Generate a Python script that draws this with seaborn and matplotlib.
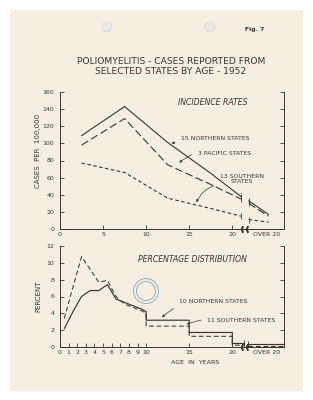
import numpy as np
import pandas as pd
import seaborn as sns
import matplotlib
matplotlib.use('Agg')
import matplotlib.pyplot as plt
from matplotlib.patches import Rectangle, Ellipse

# incidence rates, cases per 100,000 (age-group midpoints, then "over 20")
rate_ages = [2.5, 7.5, 12.5, 17.5, 21.0]
rate_ages_over = [21.9, 24.2]
northern_rate = [109, 143, 101, 65, 38]
northern_rate_over = [33, 17]
pacific_rate = [98, 129, 75, 52, 35]
pacific_rate_over = [30, 15]
southern_rate = [77, 66, 36, 24, 15]
southern_rate_over = [11, 8]

# percentage distribution: single years 0-9, then 10-14, 15-19, 20, over 20
single_ages = [0.5, 1.5, 2.5, 3.5, 4.5, 5.5, 6.5, 7.5, 8.5, 9.5, 10.0]
northern_pct = [2.2, 4.2, 6.0, 6.7, 6.7, 7.4, 5.7, 5.3, 4.9, 4.5, 4.2]
southern_pct = [3.4, 7.1, 10.7, 9.2, 7.7, 7.9, 6.0, 5.1, 4.7, 4.3, 4.0]
group_edges = [10, 15, 20, 21.3]
northern_group = [3.2, 1.75, 0.45]
southern_group = [2.5, 1.3, 0.25]
over20_span = [21.8, 26]
northern_over20 = 0.38
southern_over20 = 0.18

rate_ticks = [0, 5, 10, 15, 20, 24]
rate_ticklabels = ['0', '5', '10', '15', '20', 'OVER 20']
pct_ticks = list(range(11)) + [15, 20, 24]
pct_ticklabels = [str(i) for i in range(11)] + ['15', '20', 'OVER 20']
axis_breaks = [21.1, 21.7]

ink = '#3b3531'
paper = '#f5eee1'

sns.set_style('ticks')
plt.rcParams['font.family'] = ['DejaVu Sans']

fig = plt.figure(figsize=(3.13, 4.0), dpi=100, facecolor='white')
fig.patches.append(Rectangle((10 / 313, 1 - 391 / 400), 293 / 313, 381 / 400,
                             transform=fig.transFigure, facecolor=paper,
                             edgecolor='none', zorder=-10))
for hx in [107, 210]:
    fig.patches.append(Ellipse((hx / 313, 1 - 27 / 400), 10 / 313, 10 / 400,
                               transform=fig.transFigure, facecolor='#ebe9e6',
                               edgecolor='#d8d2c8', lw=0.5))

fig.text(255 / 313, 1 - 29 / 400, 'Fig. 7', fontsize=4.4, weight='bold',
         color=ink, ha='center', va='center')
fig.text(171 / 313, 1 - 61 / 400, 'POLIOMYELITIS - CASES REPORTED FROM',
         fontsize=6.6, color=ink, ha='center', va='center')
fig.text(171 / 313, 1 - 71 / 400, 'SELECTED STATES BY AGE - 1952',
         fontsize=6.6, color=ink, ha='center', va='center')


def style_axes(ax, ticks, labels):
    ax.set_facecolor('none')
    for s in ['left', 'right', 'bottom']:
        ax.spines[s].set_color(ink)
        ax.spines[s].set_linewidth(0.7)
    ax.spines['top'].set_visible(False)
    ax.set_xlim(0, 26)
    ax.set_xticks(ticks)
    ax.set_xticklabels(labels)
    ax.tick_params(direction='in', length=3, width=0.6, color=ink,
                   labelsize=4.5, labelcolor=ink, right=True, pad=2)
    ax.tick_params(axis='y', pad=4)
    ax.xaxis.get_major_ticks()[-1].tick1line.set_visible(False)
    ax.set_xlabel('')
    ax.plot(axis_breaks, [0, 0], ls='none', marker='$($', ms=4, color=ink,
            clip_on=False, transform=ax.get_xaxis_transform())


def draw(ax, x, y, ls, lw, ends=None):
    sns.lineplot(x=x, y=y, ax=ax, color=ink, lw=lw, linestyle=ls,
                 estimator=None, sort=False)
    if ends is not None:
        ax.plot([x[ends]], [y[ends]], ls='none', marker='|', ms=5,
                mew=0.6, color=ink)


# ---- incidence rates
ax1 = fig.add_axes([60 / 313, 1 - 229 / 400, 224 / 313, 137 / 400])
long_dash = (0, (7, 3))
short_dash = (0, (3.2, 2.2))
for pre, post, ls in [(northern_rate, northern_rate_over, '-'),
                      (pacific_rate, pacific_rate_over, long_dash),
                      (southern_rate, southern_rate_over, short_dash)]:
    draw(ax1, rate_ages, pre, ls, 0.8, ends=-1)
    draw(ax1, rate_ages_over, post, ls, 0.8, ends=0)
ax1.set_ylim(0, 160)
ax1.set_yticks(range(0, 161, 20))
style_axes(ax1, rate_ticks, rate_ticklabels)
ax1.set_ylabel('CASES  PER  100,000', fontsize=5.0, color=ink)
ax1.yaxis.set_label_coords(-0.085, 0.57)

ax1.text(17.7, 148, 'INCIDENCE RATES', fontsize=5.6, style='italic',
         color=ink, ha='center', va='center')
arrow = dict(arrowstyle='-|>,head_length=0.35,head_width=0.15', color=ink, lw=0.5)
ax1.annotate('15 NORTHERN STATES', xy=(12.6, 100), xytext=(14.0, 106),
             fontsize=4.4, color=ink, va='center', arrowprops=arrow)
ax1.annotate('3 PACIFIC STATES', xy=(13.6, 75), xytext=(16.0, 88),
             fontsize=4.4, color=ink, va='center',
             arrowprops=dict(arrow, connectionstyle='arc3,rad=0.3'))
ax1.annotate('13 SOUTHERN\nSTATES', xy=(15.7, 28), xytext=(21.1, 58.5),
             fontsize=4.4, color=ink, ha='center', va='center',
             linespacing=1.1,
             arrowprops=dict(arrow, connectionstyle='arc3,rad=0.35',
                             relpos=(0.15, 0.0)))

# ---- percentage distribution
ax2 = fig.add_axes([60 / 313, 1 - 347.3 / 400, 224 / 313, 101.6 / 400])
for single, group, over, ls in [(northern_pct, northern_group, northern_over20, '-'),
                                (southern_pct, southern_group, southern_over20, (0, (4.5, 2.7)))]:
    xs = list(single_ages)
    ys = list(single)
    for i, g in enumerate(group):
        xs += [group_edges[i], group_edges[i + 1]]
        ys += [g, g]
    draw(ax2, xs, ys, ls, 0.85 if ls == '-' else 0.75, ends=-1)
    draw(ax2, over20_span, [over, over], ls, 0.85 if ls == '-' else 0.75, ends=0)
ax2.set_ylim(0, 12)
ax2.set_yticks(range(0, 13, 2))
style_axes(ax2, pct_ticks, pct_ticklabels)
ax2.set_ylabel('PERCENT', fontsize=5.0, color=ink)
ax2.yaxis.set_label_coords(-0.085, 0.5)

ax2.text(15.4, 10.4, 'PERCENTAGE DISTRIBUTION', fontsize=5.6, style='italic',
         color=ink, ha='center', va='center')
ax2.annotate('10 NORTHERN STATES', xy=(11.6, 3.3), xytext=(13.8, 5.4),
             fontsize=4.4, color=ink, va='center',
             arrowprops=dict(arrow, connectionstyle='arc3,rad=0.25'))
ax2.annotate('11 SOUTHERN STATES', xy=(14.4, 2.6), xytext=(17.1, 3.2),
             fontsize=4.4, color=ink, va='center',
             arrowprops=dict(arrow, connectionstyle='arc3,rad=0.15'))
fig.text(195 / 313, 1 - 363 / 400, 'AGE  IN  YEARS', fontsize=4.6,
         color=ink, ha='center', va='center')

# library stamp
for r in [25, 19]:
    fig.patches.append(Ellipse((146 / 313, 1 - 291 / 400), r / 313, r / 400,
                               transform=fig.transFigure, facecolor='none',
                               edgecolor='#8fb2c6', lw=0.7))

fig.savefig('out.png', dpi=100, facecolor='white')
